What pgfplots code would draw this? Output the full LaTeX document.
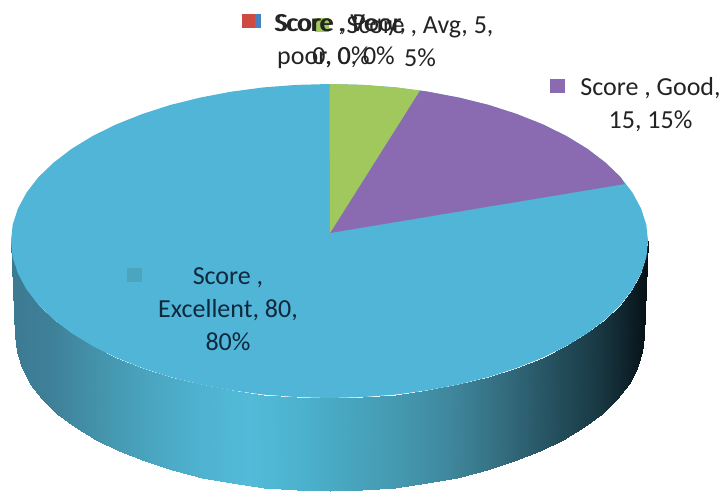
\documentclass[border=0pt]{standalone}
\usepackage{pgfplots}
\pgfplotsset{compat=1.18}
\usepackage{fontspec}
\setmainfont{Carlito}
\definecolor{pieblue}{RGB}{80,181,214}
\definecolor{piepurple}{RGB}{138,107,177}
\definecolor{piegreen}{RGB}{160,200,92}
\definecolor{keyred}{RGB}{205,75,65}
\definecolor{keyblue}{RGB}{70,130,190}
\definecolor{keyteal}{RGB}{75,165,190}
\definecolor{labeltxt}{RGB}{35,35,35}
\definecolor{labeldark}{RGB}{15,40,60}
\tikzset{lab/.style={font=\fontsize{26}{33}\selectfont, align=center, inner sep=0pt, anchor=center}}
\begin{document}
\begin{tikzpicture}
\begin{axis}[
  name=a,
  hide axis, scale only axis, width=728pt, height=491pt,
  xmin=0, xmax=728, ymin=0, ymax=491, y dir=reverse,
  colormap={wall}{rgb255=(60,120,145) rgb255=(62,128,152) rgb255=(68,148,172) rgb255=(74,165,192)
    rgb255=(78,178,208) rgb255=(82,187,217) rgb255=(76,178,205) rgb255=(72,165,190)
    rgb255=(68,152,175) rgb255=(63,135,157) rgb255=(52,110,128) rgb255=(38,82,97)
    rgb255=(24,56,66) rgb255=(5,15,20)},
  point meta min=0, point meta max=650,
]
% side wall
\addplot[surf, shader=interp, mesh/rows=2, point meta=x, forget plot] table {
x y
648.0 241.0
646.3 257.4
641.0 273.6
632.4 289.5
620.5 304.9
605.3 319.5
587.2 333.3
566.2 346.1
542.6 357.7
516.7 368.0
488.8 377.0
459.0 384.4
427.9 390.3
395.7 394.6
362.8 397.1
329.5 398.0
296.2 397.1
263.3 394.6
231.1 390.3
200.0 384.4
170.2 377.0
142.3 368.0
116.4 357.7
92.8 346.1
71.8 333.3
53.7 319.5
38.5 304.9
26.6 289.5
18.0 273.6
12.7 257.4
11.0 241.0

644.0 336.0
642.3 352.2
637.1 368.2
628.6 383.9
616.8 399.0
601.9 413.5
583.9 427.1
563.2 439.7
539.9 451.2
514.4 461.4
486.8 470.2
457.4 477.6
426.7 483.4
394.9 487.6
362.4 490.2
329.5 491.0
296.6 490.2
264.1 487.6
232.3 483.4
201.6 477.6
172.2 470.2
144.6 461.4
119.1 451.2
95.8 439.7
75.1 427.1
57.1 413.5
42.2 399.0
30.4 383.9
21.9 368.2
16.7 352.2
15.0 336.0
};
% Excellent, 80
\addplot[fill=pieblue, draw=none, forget plot] coordinates {
(329.5,84.0)(362.8,84.9)(395.7,87.4)(427.9,91.7)(459.0,97.6)(488.8,105.0)(516.7,114.0)(542.6,124.3)
(566.2,135.9)(587.2,148.7)(605.3,162.5)(620.5,177.1)(632.4,192.5)(641.0,208.4)(646.3,224.6)(648.0,241.0)
(646.3,257.4)(641.0,273.6)(632.4,289.5)(620.5,304.9)(605.3,319.5)(587.2,333.3)(566.2,346.1)(542.6,357.7)
(516.7,368.0)(488.8,377.0)(459.0,384.4)(427.9,390.3)(395.7,394.6)(362.8,397.1)(329.5,398.0)
(296.2,397.1)(263.3,394.6)(231.1,390.3)(200.0,384.4)(170.2,377.0)(142.3,368.0)(116.4,357.7)(92.8,346.1)
(71.8,333.3)(53.7,319.5)(38.5,304.9)(26.6,289.5)(18.0,273.6)(12.7,257.4)(11.0,241.0)
(12.7,224.6)(18.0,208.4)(26.6,192.5)(38.5,177.1)(53.7,162.5)(71.8,148.7)(92.8,135.9)(116.4,124.3)
(142.3,114.0)(170.2,105.0)(200.0,97.6)(231.1,91.7)(263.3,87.4)(296.2,84.9)
} -- cycle;
% Good, 15
\addplot[fill=piepurple, draw=none, forget plot] coordinates {
(330,233)(419.9,90.5)(427.9,91.7)(459.0,97.6)(488.8,105.0)(516.7,114.0)(542.6,124.3)(566.2,135.9)
(587.2,148.7)(605.3,162.5)(620.5,177.1)(624.8,184)
} -- cycle;
% Avg, 5
\addplot[fill=piegreen, draw=none, forget plot] coordinates {
(330,233)(329.5,84.0)(362.8,84.9)(395.7,87.4)(419.9,90.5)
} -- cycle;
% legend keys
\addplot[fill=keyblue, draw=none, forget plot] coordinates {(248,14)(261,14)(261,28)(248,28)} -- cycle;
\addplot[fill=keyred, draw=none, forget plot] coordinates {(242,14)(255,14)(255,28)(242,28)} -- cycle;
\addplot[fill=piegreen, draw=none, forget plot] coordinates {(315,18)(329,18)(329,32)(315,32)} -- cycle;
\addplot[fill=piepurple, draw=none, forget plot] coordinates {(550,79)(565,79)(565,93)(550,93)} -- cycle;
\addplot[fill=keyteal, draw=none, forget plot] coordinates {(127,268)(142,268)(142,282)(127,282)} -- cycle;
% labels
\node[lab, text=labeltxt] at (axis cs:336,41.5) {Score , Very\\poor, 0, 0\%};
\node[lab, text=labeltxt] at (axis cs:341,41.5) {Score , Poor,\\0, 0\%};
\node[lab, text=labeltxt] at (axis cs:420,41.5) {Score , Avg, 5,\\5\%};
\node[lab, text=labeltxt] at (axis cs:650.5,105) {Score , Good,\\15, 15\%};
\node[lab, text=labeldark] at (axis cs:228,309.5) {Score ,\\Excellent, 80,\\80\%};
\end{axis}
\path (a.south west) rectangle (a.north east);
\end{tikzpicture}
\end{document}
